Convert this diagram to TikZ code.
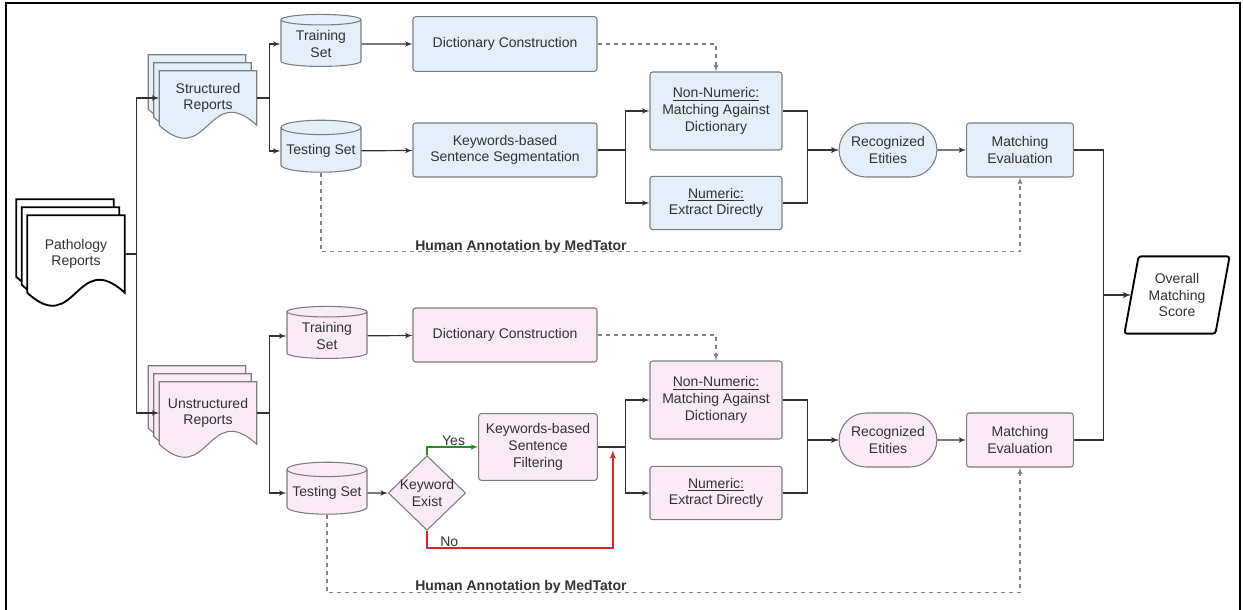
\documentclass[tikz,border=0pt]{standalone}
\usepackage{fontspec}
\setmainfont{Liberation Sans}
\usepackage{tikz}
\usetikzlibrary{shapes,arrows,calc,backgrounds}
\definecolor{strfill}{RGB}{229,239,250}
\definecolor{unsfill}{RGB}{250,235,246}
\definecolor{edge}{RGB}{125,125,125}
\definecolor{ink}{RGB}{50,50,50}
\definecolor{yesgreen}{RGB}{40,140,40}
\definecolor{nored}{RGB}{200,45,45}
\tikzstyle{line} = [draw=ink, line width=0.9pt, -latex']
\tikzstyle{dashline} = [draw=gray, line width=0.8pt, dashed, -latex']
\tikzstyle{block} = [draw=edge, line width=0.8pt, rectangle, rounded corners=2pt, text centered, align=center, inner sep=2pt]
\tikzstyle{db} = [draw=edge, line width=0.8pt, cylinder, shape border rotate=90, aspect=0.2, align=center, inner sep=1pt, minimum width=60pt, minimum height=39pt]
\tikzstyle{terminal} = [draw=edge, line width=0.8pt, rounded rectangle, align=center, minimum width=80pt, minimum height=40.5pt]
\tikzstyle{decision} = [draw=edge, line width=0.8pt, diamond, align=center, inner xsep=-7pt, inner ysep=-1pt, minimum width=58pt, minimum height=56pt]
\tikzstyle{docarea} = [rectangle, align=center, inner sep=0pt, minimum width=72.75pt]
\tikzstyle{result} = [draw=black, line width=1.4pt, trapezium, trapezium left angle=77, trapezium right angle=103, trapezium stretches=true, rounded corners=2pt, align=center, minimum width=79pt, minimum height=58pt]
\tikzstyle{stru} = [fill=strfill]
\tikzstyle{unstru} = [fill=unsfill]
\tikzstyle{annot} = [font=\fontsize{10.5}{12.5}\selectfont\bfseries, text=ink, anchor=base west, inner sep=0pt]

% stacked report pages behind a docarea node
\newcommand{\docstack}[2]{%
  \begin{scope}[on background layer]
  \foreach \dx/\dy in {-11/-16,-5.5/-8,0/0}{
    \path[#2] ($(#1.north west)+(\dx,\dy)$) -- ($(#1.north east)+(\dx,\dy)$) -- ($(#1.south east)+(\dx,\dy)$)
      .. controls ($(#1.south)+(\dx,\dy)+(0,-45)$) and ($(#1.south)+(\dx,\dy)+(0,45)$) .. ($(#1.south west)+(\dx,\dy)$) -- cycle;
  }
  \end{scope}}

\begin{document}
\begin{tikzpicture}[x=0.75pt, y=-0.75pt, node distance=1.5cm, auto, font=\fontsize{10.5}{12.5}\selectfont, text=ink]
        \useasboundingbox (0,0) rectangle (1243,610);
        \draw[line width=1.3pt] (6,3) rectangle (1240,614);

        % source
        \node[docarea, minimum height=57.75pt] (patho) at (76,254) {Pathology\\Reports};
        \docstack{patho}{draw=black, line width=1.4pt, fill=white}

        % structured branch
        \node[docarea, minimum height=40.5pt] (struct) at (208,98) {Structured\\Reports};
        \docstack{struct}{draw=edge, line width=0.8pt, stru}
        \node[db, stru] (train1) at (321,44) {Training\\Set};
        \node[db, stru] (test1) at (321,151) {Testing Set};
        \node[block, stru, minimum width=138pt, minimum height=41pt] (dict1) at (505,44) {Dictionary Construction};
        \node[block, stru, minimum width=138pt, minimum height=40.5pt] (seg) at (505,150) {Keywords-based\\Sentence Segmentation};
        \node[block, stru, minimum width=99pt, minimum height=58.5pt] (nonnum1) at (716,111) {\underline{Non-Numeric:}\\Matching Against\\Dictionary};
        \node[block, stru, minimum width=99pt, minimum height=40pt] (num1) at (716,203) {\underline{Numeric:}\\Extract Directly};
        \node[terminal, stru] (rec1) at (888,150) {Recognized\\Etities};
        \node[block, stru, minimum width=80pt, minimum height=40.5pt] (eval1) at (1020,150) {Matching\\Evaluation};

        % unstructured branch
        \node[docarea, minimum height=46.5pt] (unstruct) at (208,413) {Unstructured\\Reports};
        \docstack{unstruct}{draw=edge, line width=0.8pt, unstru}
        \node[db, unstru] (train2) at (327,336) {Training\\Set};
        \node[db, unstru] (test2) at (327,493) {Testing Set};
        \node[decision, unstru] (kw) at (427,493) {Keyword\\Exist};
        \node[block, unstru, minimum width=138pt, minimum height=40.5pt] (dict2) at (505,335) {Dictionary Construction};
        \node[block, unstru, minimum width=89pt, minimum height=50pt] (filt) at (538,447) {Keywords-based\\Sentence\\Filtering};
        \node[block, unstru, minimum width=99pt, minimum height=58.5pt] (nonnum2) at (716,400) {\underline{Non-Numeric:}\\Matching Against\\Dictionary};
        \node[block, unstru, minimum width=99pt, minimum height=40pt] (num2) at (716,493) {\underline{Numeric:}\\Extract Directly};
        \node[terminal, unstru] (rec2) at (888,440) {Recognized\\Etities};
        \node[block, unstru, minimum width=80pt, minimum height=40.5pt] (eval2) at (1020,440) {Matching\\Evaluation};

        \node[result] (overall) at (1177,295) {Overall\\Matching\\Score};

        \node[annot] (ann1) at (415,250) {Human Annotation by MedTator};
        \node[annot] (ann2) at (415,590) {Human Annotation by MedTator};
        \coordinate (nohit) at ($(filt.east)+(15,3)$);

        % connectors
        \path[line] (patho.east) -- ++(12,0) |- (struct.west);
        \path[line] (patho.east) -- ++(12,0) |- (unstruct.west);

        \path[line] (struct.east) -- ++(13,0) |- (train1.west);
        \path[line] (struct.east) -- ++(13,0) |- (test1.west);
        \path[line] (train1) -- (dict1);
        \path[line] (test1) -- (seg);
        \path[dashline] (dict1.east) -| (nonnum1.north);
        \path[line] (seg.east) -- ++(28,0) |- (nonnum1.west);
        \path[line] (seg.east) -- ++(28,0) |- (num1.west);
        \path[line] (nonnum1.east) -- ++(25,0) |- (rec1.west);
        \path[line] (num1.east) -- ++(25,0) |- (rec1.west);
        \path[line] (rec1) -- (eval1);
        \path[dashline] (test1.south) -- ++(0,79) -| (eval1.south);

        \path[line] (unstruct.east) -- ++(13,0) |- (train2.west);
        \path[line] (unstruct.east) -- ++(13,0) |- (test2.west);
        \path[line] (train2) -- (dict2);
        \path[line] (test2) -- (kw);
        \path[line, draw=yesgreen] (kw.north) |- node[pos=0.76, fill=white, inner sep=0.5pt, text=ink] {Yes} (filt.west);
        \path[line, draw=nored, line width=1.3pt] (kw.south) -- ++(0,17) -| node[pos=0.06, fill=white, inner sep=0.5pt, text=ink] {No} (nohit);
        \path[dashline] (dict2.east) -| (nonnum2.north);
        \path[line] (filt.east) -- ++(28,0) |- (nonnum2.west);
        \path[line] (filt.east) -- ++(28,0) |- (num2.west);
        \path[line] (nonnum2.east) -- ++(25,0) |- (rec2.west);
        \path[line] (num2.east) -- ++(25,0) |- (rec2.west);
        \path[line] (rec2) -- (eval2);
        \path[dashline] (test2.south) -- ++(0,78) -| (eval2.south);

        \path[line] (eval1.east) -- ++(30,0) |- (overall.west);
        \path[line] (eval2.east) -- ++(30,0) |- (overall.west);
    \end{tikzpicture}
\end{document}
